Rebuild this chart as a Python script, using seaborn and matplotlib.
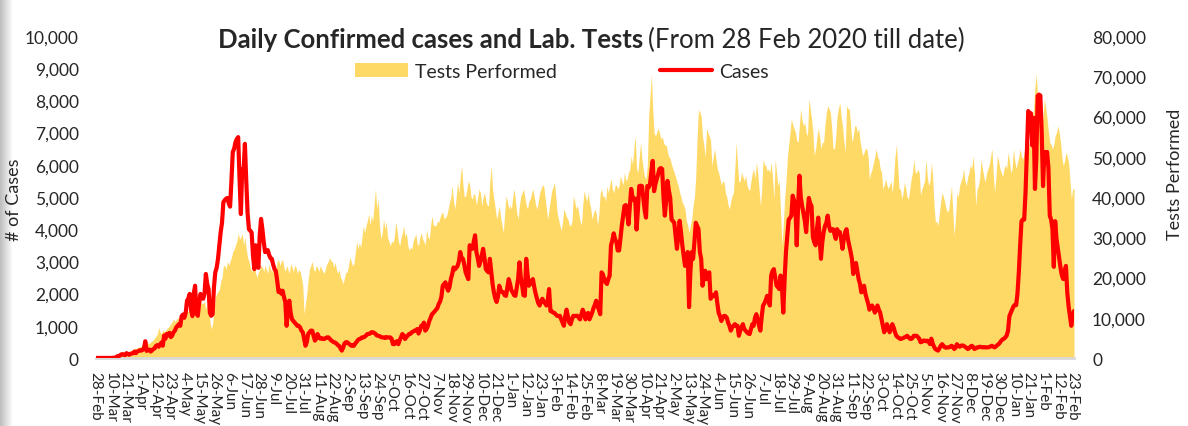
import matplotlib
matplotlib.use("Agg")
import matplotlib.pyplot as plt
from matplotlib.lines import Line2D
from matplotlib.patches import Patch
from matplotlib.ticker import StrMethodFormatter
import numpy as np
import seaborn as sns

# daily values from 28 Feb 2020, one row per 11-day tick interval
cases = [
    2, 2, 0, 1, 0, 1, 0, 1, 0, 2, 0,
    5, 2, 8, 5, 20, 50, 60, 70, 110, 120, 100,
    90, 150, 120, 100, 130, 140, 150, 200, 150, 200, 220,
    240, 230, 250, 300, 520, 220, 250, 260, 200, 240, 280,
    300, 380, 400, 350, 420, 480, 380, 700, 600, 750, 700,
    780, 650, 700, 800, 850, 950, 1000, 1050, 1000, 1300, 1350,
    1250, 1400, 1780, 1850, 1990, 1500, 1300, 2000, 2245, 1400, 1310,
    1700, 1990, 1900, 1840, 2000, 2610, 2300, 2140, 1400, 1310, 1360,
    2200, 2660, 2800, 3075, 3500, 3910, 4200, 4840, 4900, 4950, 4970,
    4800, 4700, 5500, 6400, 6500, 6700, 6800, 6860, 5600, 4470, 5870,
    5770, 6650, 5500, 4500, 4000, 3950, 3900, 3200, 2760, 3500, 3100,
    2800, 3800, 4320, 4000, 3600, 3290, 3300, 3350, 3200, 3100, 3080,
    2900, 2760, 2700, 2400, 2050, 2100, 2000, 2090, 1900, 1740, 1000,
    1500, 1780, 1400, 1200, 1150, 1100, 1050, 1000, 1000, 950, 850,
    800, 600, 380, 500, 745, 800, 850, 850, 700, 540, 600,
    745, 650, 600, 620, 590, 590, 620, 640, 640, 600, 550,
    520, 490, 480, 450, 400, 380, 300, 230, 320, 450, 490,
    490, 450, 420, 380, 400, 380, 450, 500, 560, 590, 600,
    640, 640, 660, 700, 745, 745, 760, 800, 800, 780, 750,
    700, 690, 680, 650, 640, 640, 620, 650, 640, 640, 640,
    600, 430, 430, 500, 520, 430, 550, 650, 745, 700, 590,
    650, 700, 745, 750, 800, 820, 850, 850, 900, 760, 850,
    1000, 1000, 1100, 850, 900, 1000, 1150, 1250, 1360, 1400, 1450,
    1500, 1550, 1680, 1750, 1900, 2245, 2300, 2350, 2200, 2090, 2200,
    2450, 2600, 2810, 2750, 2800, 2860, 3000, 3290, 3100, 3080, 2900,
    2660, 2550, 2450, 3500, 3450, 3390, 3600, 3810, 3290, 3100, 2860,
    3000, 3200, 3390, 3100, 2760, 2700, 2660, 3080, 2700, 2300, 2040,
    1850, 1740, 1900, 2245, 2100, 2050, 2040, 1950, 1930, 2200, 2450,
    2300, 2100, 2040, 1950, 1930, 2200, 2450, 2970, 2500, 2245, 1950,
    1930, 3080, 2600, 2245, 2300, 2400, 2450, 2200, 2000, 1840, 1700,
    1630, 1750, 1840, 1750, 1700, 1630, 1800, 2140, 1460, 1450, 1410,
    1400, 1350, 1310, 1300, 1310, 1200, 1100, 1000, 1300, 1500, 1300,
    1100, 1050, 1200, 1310, 1300, 1310, 1310, 1250, 1200, 1350, 1500,
    1400, 1200, 1300, 1400, 1200, 1300, 1410, 1550, 1650, 1780, 1600,
    1500, 1360, 2660, 2600, 2450, 2350, 2300, 2450, 2560, 3500, 3650,
    3870, 3700, 3600, 3340, 3340, 3700, 4100, 4400, 4720, 4750, 4500,
    4150, 4700, 5250, 5000, 4900, 4950, 3990, 4600, 5340, 5350, 5340,
    4970, 4600, 4360, 5340, 5300, 5400, 5800, 6120, 5180, 5400, 5560,
    5700, 5870, 5900, 5870, 5000, 4420, 4900, 5500, 5200, 4970, 4300,
    4250, 4200, 3800, 3390, 3800, 4260, 3910, 3500, 3190, 2860, 3100,
    3290, 1580, 2700, 3290, 3080, 3600, 4200, 4100, 4000, 3300, 3080,
    2245, 2500, 2710, 2450, 2500, 2660, 1840, 1900, 1950, 1930, 2040,
    1700, 1400, 1300, 1150, 1250, 1310, 1300, 1250, 1100, 1000, 850,
    950, 1000, 1050, 1000, 1000, 690, 850, 950, 1050, 900, 850,
    800, 760, 745, 900, 1050, 1000, 1250, 1360, 1200, 1000, 850,
    1300, 1630, 1700, 1800, 1930, 1800, 1630, 2560, 2700, 2760, 2500,
    2245, 2200, 2140, 2560, 2200, 1410, 2450, 3290, 3800, 4300, 4350,
    4420, 5040, 4900, 4720, 3500, 4700, 5660, 5000, 4720, 4500, 4260,
    3910, 4500, 4970, 4800, 4720, 3760, 3600, 3500, 4000, 4360, 3700,
    3080, 3600, 3910, 4100, 4200, 4420, 4100, 3950, 4000, 4000, 3850,
    3700, 4000, 3900, 3910, 3700, 3390, 3700, 3910, 4000, 3700, 3500,
    3300, 3080, 2610, 2900, 2950, 2700, 2450, 2300, 2040, 2100, 2245,
    2000, 1840, 1700, 1500, 1600, 1630, 1550, 1410, 1500, 1630, 1500,
    1410, 1200, 1000, 800, 900, 1050, 950, 800, 900, 1050, 950,
    800, 690, 650, 620, 590, 600, 620, 640, 660, 690, 650,
    600, 590, 620, 690, 690, 690, 650, 600, 490, 500, 540,
    540, 520, 540, 500, 430, 600, 450, 350, 280, 250, 230,
    300, 380, 430, 380, 330, 320, 330, 330, 350, 380, 350,
    280, 320, 430, 380, 350, 380, 390, 380, 350, 320, 280,
    300, 350, 380, 350, 280, 300, 330, 330, 350, 340, 330,
    340, 330, 330, 330, 340, 360, 380, 350, 330, 360, 400,
    430, 480, 540, 580, 600, 640, 700, 850, 1300, 1400, 1500,
    1600, 1650, 1640, 2000, 2660, 3500, 4250, 4300, 4300, 5150, 6400,
    7670, 7600, 7600, 6600, 7460, 5250, 6190, 8140, 8180, 8150, 7000,
    5340, 6400, 6300, 6400, 5900, 4420, 4300, 4000, 2830, 4250, 3700,
    3400, 3080, 2800, 2560, 2450, 2700, 2860, 2040, 1600, 1300, 1000,
    1310, 1460,
]

tests = [
    50, 60, 80, 100, 120, 150, 150, 200, 250, 300, 300,
    350, 400, 450, 500, 600, 700, 800, 900, 1000, 1100, 1200,
    1300, 1500, 1700, 1600, 1800, 2000, 2200, 2400, 2300, 2600, 2700,
    2800, 3000, 3200, 3000, 3200, 3500, 3800, 3600, 4000, 4200, 4500,
    5000, 5500, 6000, 7600, 6500, 6000, 7000, 6500, 6800, 7300, 7600,
    8000, 8500, 9000, 9700, 9000, 9500, 10000, 9800, 10500, 10000, 9500,
    10000, 11000, 12000, 11500, 13000, 12500, 11000, 12000, 14000, 13000, 12500,
    13000, 14000, 13500, 13600, 14000, 12000, 13600, 13000, 9000, 7200, 8500,
    12000, 15000, 16000, 16500, 17000, 19000, 20000, 22900, 23000, 22000, 24000,
    23000, 24000, 25000, 26500, 27000, 28000, 29000, 31000, 29500, 30000, 31000,
    28000, 30000, 27000, 25000, 24000, 22500, 21500, 22000, 23000, 21000, 20000,
    21300, 22000, 23000, 22500, 21500, 23000, 22000, 21000, 23500, 22000, 21500,
    22500, 23000, 22000, 24000, 24500, 23000, 24000, 24500, 22500, 21500, 23000,
    22000, 21000, 23500, 22500, 21500, 23000, 22500, 21000, 22000, 21500, 20000,
    18000, 11000, 13500, 16000, 19500, 22000, 23000, 24000, 22000, 21500, 23000,
    22500, 21500, 23000, 22000, 21500, 21000, 22500, 23500, 24000, 25000, 24000,
    24000, 22500, 23800, 22000, 21000, 22000, 20000, 19500, 18400, 20000, 21300,
    21300, 23000, 25000, 24000, 22900, 23500, 26000, 29100, 27000, 28700, 27500,
    30000, 32900, 31000, 33000, 34000, 35800, 33000, 35400, 34000, 38000, 42000,
    37000, 39500, 33000, 29600, 31000, 34500, 32000, 33700, 30000, 29000, 27900,
    29000, 28700, 30000, 33700, 32000, 29000, 27900, 30000, 31000, 32900, 30000,
    31200, 28000, 26700, 27500, 27100, 29000, 30000, 30800, 28500, 27900, 30000,
    31200, 29600, 29000, 28000, 32000, 30000, 29600, 33000, 35300, 33000, 32900,
    32900, 34000, 33700, 35000, 36000, 36200, 34500, 35000, 35400, 37000, 38600,
    40000, 42800, 39000, 37000, 40000, 43700, 41000, 45000, 47800, 43000, 40000,
    40300, 42000, 44100, 43000, 40000, 39500, 41000, 40300, 38000, 40000, 42000,
    41000, 37800, 40000, 41100, 39000, 38000, 37800, 44000, 47800, 42000, 39500,
    37000, 34500, 36000, 37800, 35000, 33000, 31200, 36000, 40300, 39000, 37000,
    38000, 37000, 40000, 42000, 39000, 36000, 34500, 38000, 40300, 41000, 42000,
    40000, 38000, 37000, 39000, 39500, 41000, 42000, 40000, 38000, 37000, 39000,
    41000, 42000, 43000, 42800, 40000, 37000, 34500, 37000, 39500, 41600, 42500,
    43700, 40000, 36000, 34500, 33000, 31600, 34000, 37000, 36000, 35000, 34500,
    33000, 32900, 34000, 40300, 39000, 37000, 38000, 36000, 34000, 33000, 38000,
    41600, 40000, 39000, 41000, 38600, 37000, 34500, 36000, 37000, 36000, 32900,
    36000, 41000, 42000, 40000, 40300, 39000, 42800, 41000, 43000, 44500, 42000,
    41000, 42800, 43000, 42000, 42800, 45300, 44000, 43000, 46100, 44000, 44500,
    46000, 47000, 50300, 48000, 52000, 55200, 47000, 46100, 50000, 53600, 49400,
    47000, 45000, 44500, 48000, 60000, 65200, 70500, 61800, 56000, 55200, 56000,
    57100, 56000, 54400, 55000, 53600, 52800, 53000, 51100, 50000, 49400, 48000,
    47000, 46000, 45000, 43700, 42800, 41100, 40000, 38600, 38000, 37000, 34000,
    33000, 31200, 33000, 34500, 38000, 40000, 45300, 55000, 61800, 61000, 60000,
    55000, 52800, 50000, 57100, 56000, 55200, 54000, 47800, 50000, 52000, 49400,
    47000, 46000, 44500, 43000, 44000, 43700, 41100, 40000, 38000, 37000, 39000,
    40300, 41100, 47000, 53600, 48000, 43700, 44000, 46100, 45000, 44000, 45300,
    43000, 42000, 41600, 44000, 46000, 47000, 44500, 48600, 46100, 42000, 37800,
    42000, 49400, 48000, 47800, 46500, 47000, 46000, 48600, 45000, 39500, 49400,
    46000, 42800, 44000, 36000, 27900, 33000, 39500, 44000, 49400, 53000, 56000,
    59400, 58000, 57000, 56100, 54000, 53600, 58000, 61900, 59000, 57700, 58500,
    56000, 55200, 64400, 62000, 59400, 56000, 50300, 52000, 55000, 57100, 55000,
    52000, 53600, 53600, 58000, 61000, 62700, 61900, 61000, 57000, 52000, 52000,
    55000, 60200, 62000, 63500, 60000, 57700, 54000, 51100, 62700, 62000, 61900,
    58000, 53600, 55000, 57700, 57700, 56000, 57100, 54000, 52000, 50300, 51000,
    52000, 52000, 50000, 44500, 46000, 47000, 48600, 50000, 52000, 50000, 49400,
    47000, 46100, 42000, 43000, 44500, 43000, 42000, 43000, 44000, 41000, 45000,
    50000, 53000, 48000, 42000, 42000, 39500, 41000, 43700, 42000, 40000, 39500,
    42000, 44500, 46000, 49400, 46100, 46000, 47000, 46000, 40400, 42000, 43000,
    44000, 49400, 45000, 42800, 44000, 48600, 45000, 38000, 33700, 34000, 32900,
    36000, 39000, 41100, 40000, 38600, 37000, 36200, 37000, 40000, 42800, 36000,
    30400, 35000, 41100, 40000, 42800, 44000, 45000, 47000, 44000, 42800, 45000,
    46100, 48000, 47000, 50300, 46000, 37800, 42000, 42800, 45000, 49400, 47000,
    45000, 43700, 46000, 47000, 48000, 50000, 52000, 46000, 41100, 45000, 50300,
    49000, 47000, 46100, 45000, 47000, 48000, 47000, 51100, 49000, 46000, 47000,
    52000, 49000, 47000, 48600, 50000, 52000, 50000, 49400, 51000, 53000, 52000,
    54400, 52000, 55000, 59400, 62000, 67600, 70500, 64000, 61900, 60000, 57700,
    60000, 64400, 62000, 59400, 56000, 53600, 53000, 52000, 53000, 55200, 56000,
    57700, 56000, 53600, 50000, 47800, 49000, 51100, 50000, 48600, 44000, 39500,
    42000, 42000,
]

tick_labels = [
    "28-Feb", "10-Mar", "21-Mar", "1-Apr", "12-Apr", "23-Apr", "4-May", "15-May",
    "26-May", "6-Jun", "17-Jun", "28-Jun", "9-Jul", "20-Jul", "31-Jul", "11-Aug",
    "22-Aug", "2-Sep", "13-Sep", "24-Sep", "5-Oct", "16-Oct", "27-Oct", "7-Nov",
    "18-Nov", "29-Nov", "10-Dec", "21-Dec", "1-Jan", "12-Jan", "23-Jan", "3-Feb",
    "14-Feb", "25-Feb", "8-Mar", "19-Mar", "30-Mar", "10-Apr", "21-Apr", "2-May",
    "13-May", "24-May", "4-Jun", "15-Jun", "26-Jun", "7-Jul", "18-Jul", "29-Jul",
    "9-Aug", "20-Aug", "31-Aug", "11-Sep", "22-Sep", "3-Oct", "14-Oct", "25-Oct",
    "5-Nov", "16-Nov", "27-Nov", "8-Dec", "19-Dec", "30-Dec", "10-Jan", "21-Jan",
    "1-Feb", "12-Feb", "23-Feb",
]
tick_step = 11

YELLOW = "#FFD966"
RED = "#FF0000"

sns.set_style("white")
plt.rcParams["font.family"] = ["Lato", "DejaVu Sans"]

W, H = 1188, 427
days = np.arange(len(cases))

fig = plt.figure(figsize=(W / 100, H / 100), dpi=100)

# screenshot shadow on the left edge
shade = fig.add_axes([0, 0, 12 / W, 1])
shade.imshow(np.linspace(0.74, 1.0, 40)[None, :], cmap="gray", vmin=0, vmax=1,
             aspect="auto", extent=(0, 1, 0, 1))
shade.axis("off")

ax_t = fig.add_axes([95.5 / W, 1 - 359 / H, (1074 - 95.5) / W, (359 - 37) / H])
ax_t.fill_between(days, tests, color=YELLOW, lw=0)
ax_t.set_ylim(0, 80000)
ax_t.set_xlim(0, len(cases) - 1)

ax_c = ax_t.twinx()
sns.lineplot(x=days, y=cases, ax=ax_c, color=RED, lw=3, legend=False)
ax_c.set_ylim(0, 10000)
ax_c.yaxis.tick_left()
ax_t.yaxis.tick_right()

ax_t.set_xticks(np.arange(len(tick_labels)) * tick_step)
ax_t.set_xticklabels(tick_labels, rotation=-90, fontsize=11)
ax_t.set_yticks(range(0, 80001, 10000))
ax_c.set_yticks(range(0, 10001, 1000))
ax_t.yaxis.set_major_formatter(StrMethodFormatter("{x:,.0f}"))
ax_c.yaxis.set_major_formatter(StrMethodFormatter("{x:,.0f}"))
ax_t.tick_params(axis="y", length=0, pad=13, labelsize=12.5)
ax_c.tick_params(axis="y", length=0, pad=12, labelsize=12.5)
ax_t.tick_params(axis="x", length=0, pad=9)
ax_c.set_ylabel("")
ax_t.set_ylabel("")

for a in (ax_t, ax_c):
    for s in a.spines.values():
        s.set_visible(False)
ax_t.spines["bottom"].set_visible(True)
ax_t.spines["bottom"].set_color("#D9D9D9")
ax_t.spines["bottom"].set_linewidth(2)

fig.text(643 / W, 1 - 40 / H, "Daily Confirmed cases and Lab. Tests",
         ha="right", va="center", fontsize=18.5, fontweight="bold")
fig.text(648 / W, 1 - 40 / H, "(From 28 Feb 2020 till date)",
         ha="left", va="center", fontsize=18.5)

handles = [Patch(color=YELLOW, lw=0), Line2D([0], [0], color=RED, lw=3)]
fig.legend(handles, ["Tests Performed", "Cases"], loc="center",
           bbox_to_anchor=(562 / W, 1 - 72 / H), ncol=2, frameon=False,
           fontsize=14, handlelength=2.7, handleheight=0.75,
           handletextpad=0.35, columnspacing=5.3)

fig.text(14 / W, 1 - 200 / H, "# of Cases", rotation=90, ha="center",
         va="center", fontsize=13)
fig.text(1175 / W, 1 - 174 / H, "Tests Performed", rotation=90, ha="center",
         va="center", fontsize=13)

fig.savefig("out.png", dpi=100)
